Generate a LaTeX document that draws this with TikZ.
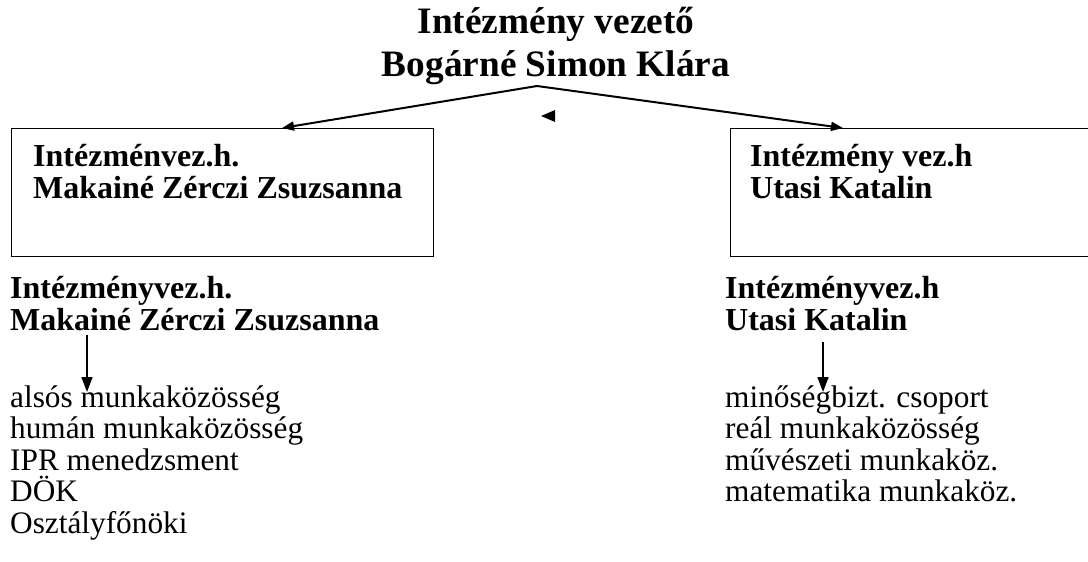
\documentclass[tikz,border=0pt]{standalone}
\usepackage{fontspec}
\setmainfont{Liberation Serif}
\usetikzlibrary{arrows.meta}
\begin{document}
\begin{tikzpicture}[x=1pt, y=-1pt,
				   every node/.style={inner sep=0pt, anchor=base west, align=left},
				   head/.style={font=\bfseries\fontsize{32}{31.5}\selectfont},
				   item/.style={font=\fontsize{31.3}{31.5}\selectfont},
				   title/.style={font=\bfseries\fontsize{37.3}{43}\selectfont, align=center, anchor=base},
				   box/.style={draw=black, line width=1.4pt, anchor=north west, minimum height=128pt},
				   link/.style={-{Triangle[length=12pt, width=9pt]}, line width=2pt},
				   down/.style={-{Triangle[length=15pt, width=11pt]}, line width=1.6pt}]
\useasboundingbox (0,0) rectangle (1088,562);
\node[title] (V) at (556,76) {Intézmény vezető\\Bogárné Simon Klára};
\node[box, minimum width=422pt] (L) at (11,128) {};
\node[box, minimum width=380pt] (R) at (730,128) {};
\node[head] (LT) at (33,198) {Intézménvez.h.\\Makainé Zérczi Zsuzsanna};
\node[head] (RT) at (750,198) {Intézmény vez.h\\Utasi Katalin};
\node[head] (LH) at (10,330) {Intézményvez.h.\\Makainé Zérczi Zsuzsanna};
\node[head] (RH) at (725,330) {Intézményvez.h\\Utasi Katalin};
\node[item] (LI) at (10,533) {alsós munkaközösség\\humán munkaközösség\\IPR menedzsment\\DÖK\\Osztályfőnöki};
\node[item] (RI) at (725,501.5) {minőségbizt. csoport\\reál munkaközösség\\művészeti munkaköz.\\matematika munkaköz.};
\coordinate (apex) at (537,86);
\coordinate (lin) at (282,128);
\coordinate (rin) at (843,128);
\coordinate (lfrom) at (87,335);
\coordinate (lto) at (87,392);
\coordinate (rfrom) at (823,342);
\coordinate (rto) at (823,392);
\draw[link] (apex) -- (lin);
\draw[link] (apex) -- (rin);
\draw[down] (lfrom) -- (lto);
\draw[down] (rfrom) -- (rto);
\fill (555,110) -- (555,122) -- (541,116) -- cycle;
\end{tikzpicture}
\end{document}
